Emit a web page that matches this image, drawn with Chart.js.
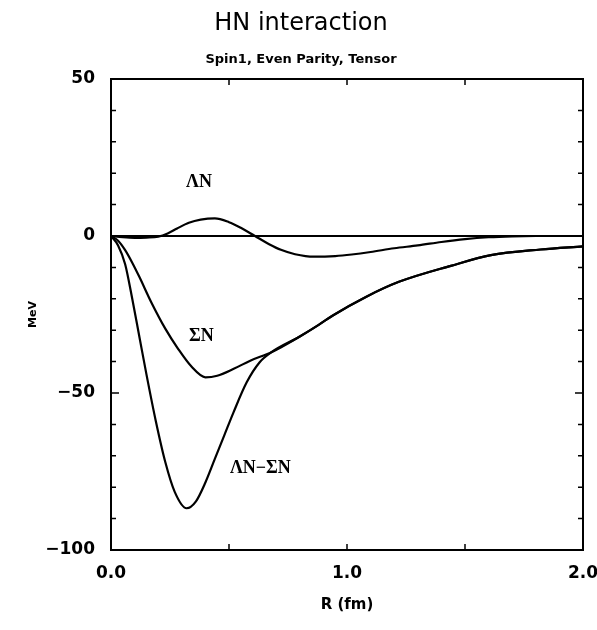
<!DOCTYPE html>
<html lang="en">
<head>
    <meta charset="UTF-8">
    <title>HN interaction - Spin1, Even Parity, Tensor</title>
    <script src="https://cdn.jsdelivr.net/npm/chart.js"></script>
    <style>
        body, html {
            margin: 0;
            padding: 0;
            background: #fff;
            overflow: hidden;
        }
        #wrap {
            width: 597px;
            height: 630px;
        }
    </style>
</head>
<body>
    <div id="wrap"><canvas id="hnChart" width="597" height="630"></canvas></div>

    <script>
        // Lambda N curve
        const lambdaR = [0, 0.05, 0.10, 0.15, 0.20, 0.24, 0.28, 0.33, 0.38, 0.44, 0.50, 0.55, 0.61, 0.67, 0.72, 0.78, 0.86, 0.95, 1.02, 1.10, 1.20, 1.30, 1.40, 1.50, 1.60, 1.70, 1.80, 1.90, 2.00];
        const lambdaV = [0, -0.4, -0.6, -0.5, -0.2, 0.8, 2.4, 4.2, 5.2, 5.6, 4.4, 2.6, 0, -2.6, -4.4, -5.8, -6.6, -6.4, -5.9, -5.1, -3.9, -3.0, -1.9, -1.0, -0.4, -0.1, 0, 0, 0];

        // Sigma N curve
        const sigmaR = [0, 0.03, 0.06, 0.09, 0.12, 0.17, 0.23, 0.285, 0.34, 0.40, 0.45, 0.52, 0.59, 0.68, 0.80, 0.88, 0.94, 1.08, 1.22, 1.44, 1.61, 1.82, 2.00];
        const sigmaV = [0, -1.5, -4.5, -8.5, -13, -21, -29.5, -36, -41.5, -45, -44.5, -42.3, -39.7, -37, -32, -28.3, -25.3, -19.4, -14.6, -9.5, -6.1, -4.3, -3.3];

        // Lambda N - Sigma N coupling curve (joins the Sigma N curve past 0.68 fm)
        const mixR = [0, 0.03, 0.06, 0.09, 0.12, 0.15, 0.19, 0.23, 0.27, 0.32, 0.36, 0.40, 0.44, 0.48, 0.52, 0.575, 0.63, 0.68, 0.80, 0.88, 0.94, 1.08, 1.22, 1.44, 1.61, 1.82, 2.00];
        const mixV = [0, -3, -9, -20, -32, -44, -59, -72, -81.5, -86.7, -84.5, -78.5, -71, -63.5, -56, -46.6, -40.2, -37, -32, -28.3, -25.3, -19.4, -14.6, -9.5, -6.1, -4.3, -3.3];

        // zero reference line
        const zeroR = [0, 2];
        const zeroV = [0, 0];

        const curveLabels = ['\u039BN', '\u03A3N', '\u039BN\u2212\u03A3N'];
        const labelR = [0.373, 0.383, 0.633];
        const labelV = [17.2, -31.8, -74.1];

        const yTickMarks = [40, 30, 20, 10, 0, -10, -20, -30, -40, -50, -60, -70, -80, -90];
        const xTickMarks = [0.5, 1.0, 1.5];

        const toPoints = (xs, ys) => xs.map((x, i) => ({ x: x, y: ys[i] }));

        const lineStyle = {
            borderColor: '#000',
            borderWidth: 2.2,
            pointRadius: 0,
            fill: false,
            cubicInterpolationMode: 'monotone'
        };

        // frame, inward tick marks and curve labels
        const decorations = {
            id: 'decorations',
            afterDatasetsDraw(chart) {
                const { ctx, chartArea: a, scales: { x, y } } = chart;
                ctx.save();
                ctx.strokeStyle = '#000';
                ctx.lineWidth = 2;
                ctx.strokeRect(a.left, a.top, a.right - a.left, a.bottom - a.top);

                ctx.lineWidth = 1.5;
                ctx.beginPath();
                yTickMarks.forEach(v => {
                    const p = y.getPixelForValue(v);
                    const len = v % 50 === 0 ? 8 : 5;
                    ctx.moveTo(a.left, p); ctx.lineTo(a.left + len, p);
                    ctx.moveTo(a.right, p); ctx.lineTo(a.right - len, p);
                });
                xTickMarks.forEach(v => {
                    const p = x.getPixelForValue(v);
                    ctx.moveTo(p, a.bottom); ctx.lineTo(p, a.bottom - 6);
                    ctx.moveTo(p, a.top); ctx.lineTo(p, a.top + 6);
                });
                ctx.stroke();

                ctx.fillStyle = '#000';
                ctx.font = 'bold 18px "Liberation Serif"';
                ctx.textAlign = 'center';
                ctx.textBaseline = 'middle';
                curveLabels.forEach((t, i) => {
                    ctx.fillText(t, x.getPixelForValue(labelR[i]), y.getPixelForValue(labelV[i]));
                });
                ctx.restore();
            }
        };

        const ctx = document.getElementById('hnChart').getContext('2d');
        new Chart(ctx, {
            type: 'line',
            data: {
                datasets: [
                    { label: 'zero', data: toPoints(zeroR, zeroV), ...lineStyle, borderWidth: 2 },
                    { label: '\u039BN', data: toPoints(lambdaR, lambdaV), ...lineStyle },
                    { label: '\u03A3N', data: toPoints(sigmaR, sigmaV), ...lineStyle },
                    { label: '\u039BN\u2212\u03A3N', data: toPoints(mixR, mixV), ...lineStyle }
                ]
            },
            options: {
                responsive: false,
                animation: false,
                layout: { padding: { left: 19, right: 14 } },
                plugins: {
                    legend: { display: false },
                    tooltip: { enabled: false },
                    title: {
                        display: true,
                        text: 'HN interaction',
                        color: '#000',
                        font: { family: 'DejaVu Sans', size: 24, weight: 'normal' },
                        padding: { top: 9, bottom: 6 }
                    },
                    subtitle: {
                        display: true,
                        text: 'Spin1, Even Parity, Tensor',
                        color: '#000',
                        font: { family: 'DejaVu Sans', size: 13, weight: 'bold' },
                        padding: { top: 8, bottom: 11.6 }
                    }
                },
                scales: {
                    x: {
                        type: 'linear',
                        min: 0,
                        max: 2,
                        afterFit: (scale) => {
                            scale.height = 80;
                            scale.paddingLeft = 0;
                            scale.paddingRight = 0;
                        },
                        grid: { display: false, drawTicks: false },
                        border: { display: false },
                        ticks: {
                            stepSize: 1,
                            padding: 13,
                            color: '#000',
                            maxRotation: 0,
                            font: { family: 'DejaVu Sans', size: 17, weight: 'bold' },
                            callback: (v) => v.toFixed(1)
                        },
                        title: {
                            display: true,
                            text: 'R (fm)',
                            color: '#000',
                            font: { family: 'DejaVu Sans', size: 15, weight: 'bold' },
                            padding: { bottom: 16 }
                        }
                    },
                    y: {
                        min: -100,
                        max: 50,
                        afterFit: (scale) => { scale.width = 92; },
                        grid: { display: false, drawTicks: false },
                        border: { display: false },
                        ticks: {
                            stepSize: 50,
                            padding: 16,
                            color: '#000',
                            font: { family: 'DejaVu Sans', size: 17, weight: 'bold' },
                            callback: (v) => String(v).replace('-', '\u2212')
                        },
                        title: {
                            display: true,
                            text: 'MeV',
                            color: '#000',
                            font: { family: 'DejaVu Sans', size: 11, weight: 'bold' },
                            padding: { top: 8 }
                        }
                    }
                }
            },
            plugins: [decorations]
        });
    </script>
</body>
</html>
